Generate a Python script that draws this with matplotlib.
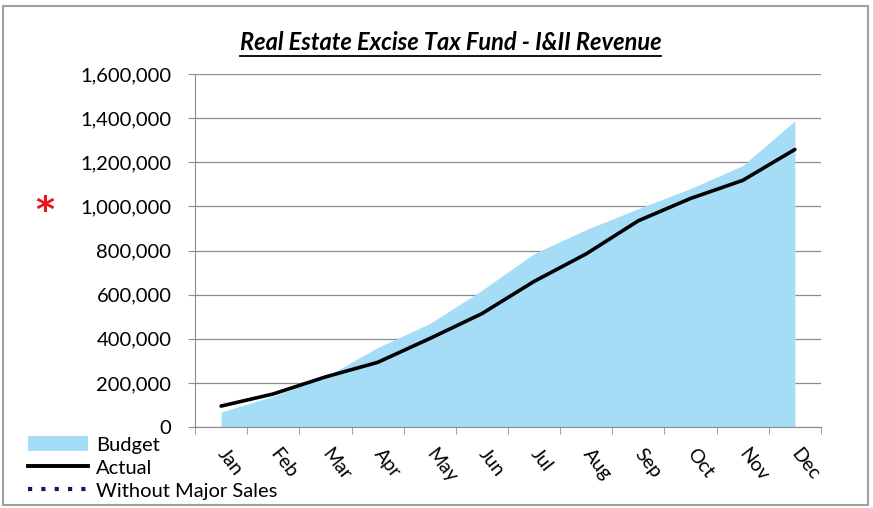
import matplotlib
matplotlib.use("Agg")
import matplotlib.pyplot as plt
from matplotlib.lines import Line2D
from matplotlib.patches import Patch, Rectangle
from matplotlib.ticker import FuncFormatter, FixedLocator

plt.rcParams['font.family'] = ['Lato', 'DejaVu Sans']

months = ["Jan", "Feb", "Mar", "Apr", "May", "Jun", "Jul", "Aug", "Sep", "Oct", "Nov", "Dec"]
budget = [68000, 140000, 227000, 360000, 469000, 620000, 786000, 895000, 990000, 1081000, 1185000, 1388000]
actual = [95000, 150000, 227000, 293000, 401000, 514000, 660000, 785000, 935000, 1036000, 1118000, 1258000]
without_major_sales = []  # legend only in the reference
yticks = [0, 200000, 400000, 600000, 800000, 1000000, 1200000, 1400000, 1600000]

fig = plt.figure(figsize=(8.73, 5.08), dpi=100)
ax = fig.add_axes([0.2234, 0.1594, 0.9404 - 0.2234, 0.8543 - 0.1594])

x = list(range(len(months)))
ax.fill_between(x, 0, budget, color='#A6DDF6', linewidth=0, zorder=2)
ax.plot(x, actual, color='black', linewidth=2.6, zorder=3, solid_capstyle='round')
ax.plot(x[:len(without_major_sales)], without_major_sales, color='#0B1F5C', linestyle=':', linewidth=2.5)

ax.set_xlim(-0.5, 11.5)
ax.set_ylim(0, 1600000)
ax.set_yticks(yticks)
ax.yaxis.set_major_formatter(FuncFormatter(lambda v, p: f"{int(v):,}"))
ax.grid(axis='y', color='#8C8C8C', linewidth=0.9, zorder=1)
ax.set_axisbelow(True)

ax.set_xticks(x)
ax.set_xticklabels(months, rotation=-52, ha='left', va='center', rotation_mode='anchor')
ax.xaxis.set_minor_locator(FixedLocator([i - 0.5 for i in range(13)]))
ax.tick_params(axis='x', which='major', length=0, pad=17, labelsize=14)
ax.tick_params(axis='x', which='minor', length=5, color='#8C8C8C', direction='out')
ax.tick_params(axis='y', length=5, color='#8C8C8C', labelsize=14.5, pad=12)

for s in ['top', 'right']:
    ax.spines[s].set_visible(False)
ax.spines['left'].set_color('#8C8C8C')
ax.spines['bottom'].set_color('#8C8C8C')

# title with underline
ty = 1 - 50 / 508
title = fig.text(0.516, ty, "Real Estate Excise Tax Fund - I&II Revenue", ha='center', va='baseline',
                 fontsize=17, fontweight='bold', fontstyle='italic')
fig.canvas.draw()
bb = title.get_window_extent().transformed(fig.transFigure.inverted())
fig.add_artist(Line2D([bb.x0, bb.x1], [ty - 0.012, ty - 0.012], color='black', linewidth=1.3,
                      transform=fig.transFigure))

# red asterisk
fig.text(0.051, 0.585, "*", color='#E8141B', fontsize=26, fontweight='bold', ha='center', va='center',
         family='DejaVu Sans')

# legend
handles = [Patch(facecolor='#A6DDF6', edgecolor='none'),
           Line2D([], [], color='black', linewidth=2.8),
           Line2D([], [], color='#0B1F5C', linestyle=(0, (1, 2.2)), linewidth=3)]
leg = fig.legend(handles, ["Budget", "Actual", "Without Major Sales"], loc='upper left',
                 bbox_to_anchor=(0.032, 1 - 436 / 508), frameon=False, fontsize=14.5,
                 handlelength=3.0, handleheight=0.8, handletextpad=0.4, labelspacing=0.26,
                 borderaxespad=0, borderpad=0)

# border
fig.add_artist(Rectangle((0.004, 0.006), 0.99, 0.982, transform=fig.transFigure, fill=False,
                         edgecolor='#A0A0A0', linewidth=1.5))

fig.savefig("out.png", dpi=100)
